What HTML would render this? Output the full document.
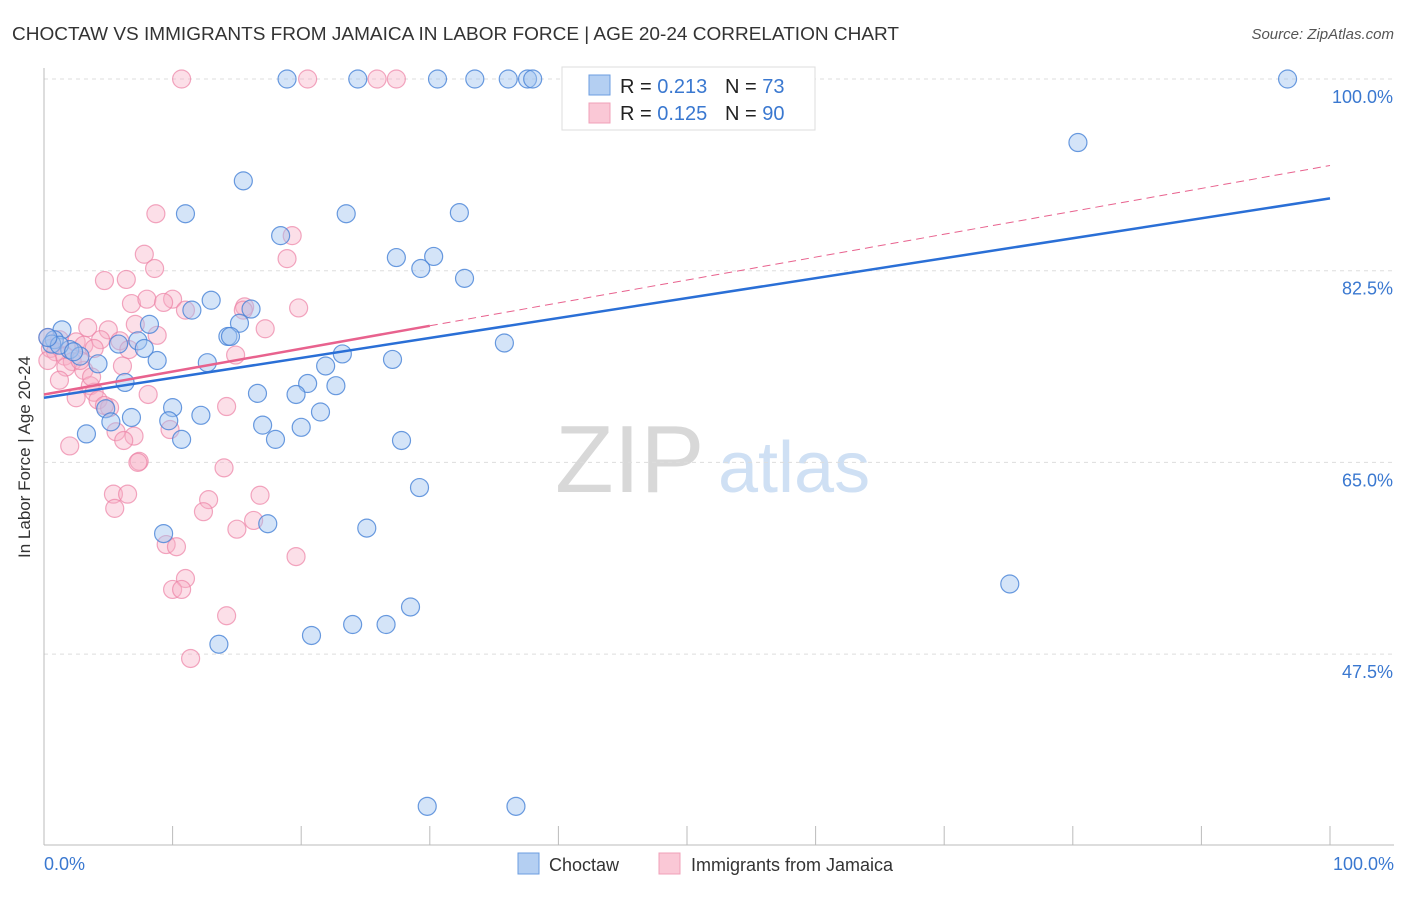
<!DOCTYPE html>
<html><head><meta charset="utf-8"><style>
body{margin:0;background:#fff;font-family:"Liberation Sans",sans-serif;}
svg text{font-family:"Liberation Sans",sans-serif;}
</style></head><body>
<svg width="1406" height="892" viewBox="0 0 1406 892">
<text x="12" y="40" font-size="18.5" fill="#333" textLength="887" lengthAdjust="spacingAndGlyphs">CHOCTAW VS IMMIGRANTS FROM JAMAICA IN LABOR FORCE | AGE 20-24 CORRELATION CHART</text>
<text x="1394" y="39" font-size="15" fill="#555" font-style="italic" text-anchor="end">Source: ZipAtlas.com</text>
<text x="555" y="492" font-size="96" fill="#d8d8d8" font-family="Liberation Serif">ZIP</text>
<text x="718" y="492" font-size="72" fill="#cfe0f4">atlas</text>
<g id="grid"></g>
<g id="axes"></g>
<g id="pts"></g>
<g id="trend"></g>
<text x="30" y="457" font-size="17" fill="#333" text-anchor="middle" transform="rotate(-90 30 457)">In Labor Force | Age 20-24</text>
<text x="44" y="870" font-size="18" fill="#3a78d0">0.0%</text>
<text x="1394" y="870" font-size="18" fill="#3a78d0" text-anchor="end">100.0%</text>
<g>
<rect x="562" y="67" width="253" height="63" fill="#fff" stroke="#ddd"/>
<rect x="589" y="75" width="21" height="20" fill="#b4cff2" stroke="#6b9de0"/>
<rect x="589" y="103" width="21" height="20" fill="#fac8d6" stroke="#f0a0b8"/>
<text x="620" y="93" font-size="20" fill="#222">R = <tspan fill="#3a78d0">0.213</tspan></text>
<text x="725" y="93" font-size="20" fill="#222">N = <tspan fill="#3a78d0"> 73</tspan></text>
<text x="620" y="120" font-size="20" fill="#222">R = <tspan fill="#3a78d0">0.125</tspan></text>
<text x="725" y="120" font-size="20" fill="#222">N = <tspan fill="#3a78d0">90</tspan></text>
</g>
<g>
<rect x="518" y="853" width="21" height="21" fill="#b4cff2" stroke="#6b9de0"/>
<text x="549" y="871" font-size="18" fill="#333">Choctaw</text>
<rect x="659" y="853" width="21" height="21" fill="#fac8d6" stroke="#f0a0b8"/>
<text x="691" y="871" font-size="18" fill="#333">Immigrants from Jamaica</text>
</g>
</svg>
<script>
const yTicks=[100,82.5,65,47.5];
const yTickLabels=["100.0%","82.5%","65.0%","47.5%"];
const xTicks=[0,10,20,30,40,50,60,70,80,90,100];
const blueX=[18.9,24.4,30.6,33.5,36.1,37.6,38.0,96.7,80.4,15.5,11.0,23.5,32.3,18.4,27.4,30.3,29.3,32.7,13.0,16.1,11.5,15.2,8.2,14.3,14.5,1.4,7.3,5.8,7.8,0.8,0.6,2.0,2.8,23.2,35.8,27.1,8.8,12.7,4.2,21.9,6.3,20.5,22.7,16.6,19.6,10.0,12.2,4.8,21.5,9.7,6.8,5.2,17.0,20.0,3.3,10.7,18.0,27.8,29.2,17.4,25.1,9.3,75.1,28.5,24.0,26.6,20.8,13.6,29.8,36.7,1.2,0.3,2.3];
const blueY=[100,100,100,100,100,100,100,100,94.2,90.7,87.7,87.7,87.8,85.7,83.7,83.8,82.7,81.8,79.8,79.0,78.9,77.7,77.6,76.5,76.5,77.1,76.1,75.8,75.4,76.2,75.8,75.3,74.7,74.9,75.9,74.4,74.3,74.1,74.0,73.8,72.3,72.2,72.0,71.3,71.2,70.0,69.3,69.9,69.6,68.8,69.1,68.7,68.4,68.2,67.6,67.1,67.1,67.0,62.7,59.4,59.0,58.5,53.9,51.8,50.2,50.2,49.2,48.4,33.6,33.6,75.7,76.4,75.1];
const pinkX=[10.7,20.5,25.9,27.4,8.7,19.3,7.8,18.9,8.6,4.7,6.4,10.0,6.8,8.0,9.3,19.8,15.6,15.5,11.0,7.1,5.0,3.4,17.2,8.8,5.9,4.4,2.5,1.2,3.1,0.3,0.5,0.9,1.6,2.2,0.3,14.9,6.6,3.9,6.1,1.7,3.1,1.2,3.6,3.9,8.1,2.5,4.2,5.1,4.7,14.2,9.8,5.6,7.0,6.2,2.0,7.4,7.3,14.0,5.4,6.5,12.8,16.8,5.5,12.4,16.3,15.0,9.5,10.3,19.6,11.0,10.0,10.7,14.2,11.4,3.7,2.8];
const pinkY=[100,100,100,100,87.7,85.7,84.0,83.6,82.7,81.6,81.7,79.9,79.5,79.9,79.6,79.1,79.2,78.9,78.9,77.6,77.1,77.3,77.2,76.6,76.1,76.2,76.0,76.2,75.7,76.4,75.4,75.1,74.7,74.2,74.3,74.8,75.3,75.4,73.8,73.7,73.4,72.5,72.0,71.4,71.2,70.9,70.7,70.0,70.2,70.1,68.0,67.8,67.4,67.0,66.5,65.1,65.0,64.5,62.1,62.1,61.6,62.0,60.8,60.5,59.7,58.9,57.5,57.3,56.4,54.4,53.4,53.4,51.0,47.1,72.8,74.3];
const blueTrend=[70.9,89.1];
const pinkTrend=[71.2,92.1];
const pinkSolidEnd=30;
const NS="http://www.w3.org/2000/svg";
const sx=v=>44+v*12.86;
const sy=v=>79+(100-v)*10.954;
function mk(t,a,p){const e=document.createElementNS(NS,t);for(const k in a)e.setAttribute(k,a[k]);p.appendChild(e);return e;}
const grid=document.getElementById('grid');
yTicks.forEach((v,i)=>{
 const l=mk('line',{x1:44,x2:1394,y1:sy(v),y2:sy(v),stroke:'#ddd','stroke-dasharray':'4 4'},grid);
 
 
 const t=mk('text',{x:1393,y:sy(v)+24,'font-size':18,fill:'#3a78d0','text-anchor':'end'},grid);
 t.textContent=yTickLabels[i];
 
 
});
const ax=document.getElementById('axes');
const ya=mk('line',{x1:44,x2:44,y1:68,y2:845,stroke:'#bbb'},ax);


const xa=mk('line',{x1:44,x2:1394,y1:845,y2:845,stroke:'#bbb'},ax);


xTicks.forEach(v=>{
 const t=mk('line',{x1:sx(v),x2:sx(v),y1:826,y2:845,stroke:'#bbb'},ax);
 
 
});
const pts=document.getElementById('pts');
pinkX.forEach((x,i)=>{
 const c=mk('circle',{cx:sx(x),cy:sy(pinkY[i]),r:9,fill:'rgba(248,175,198,0.4)',stroke:'rgba(236,130,165,0.7)','stroke-width':1.2},pts);
 
 
});
blueX.forEach((x,i)=>{
 const c=mk('circle',{cx:sx(x),cy:sy(blueY[i]),r:9,fill:'rgba(160,196,240,0.45)',stroke:'rgba(70,130,215,0.8)','stroke-width':1.2},pts);
 
 
});
const tr=document.getElementById('trend');
const py=x=>pinkTrend[0]+(pinkTrend[1]-pinkTrend[0])*x/100;
const bl=mk('line',{x1:sx(0),y1:sy(blueTrend[0]),x2:sx(100),y2:sy(blueTrend[1]),stroke:'#2a6fd6','stroke-width':2.5},tr);


const pl=mk('line',{x1:sx(0),y1:sy(py(0)),x2:sx(pinkSolidEnd),y2:sy(py(pinkSolidEnd)),stroke:'#e8628e','stroke-width':2.5},tr);


const pd=mk('line',{x1:sx(pinkSolidEnd),y1:sy(py(pinkSolidEnd)),x2:sx(100),y2:sy(py(100)),stroke:'#e8628e','stroke-width':1,'stroke-dasharray':'8 5'},tr);


</script>
</body></html>
